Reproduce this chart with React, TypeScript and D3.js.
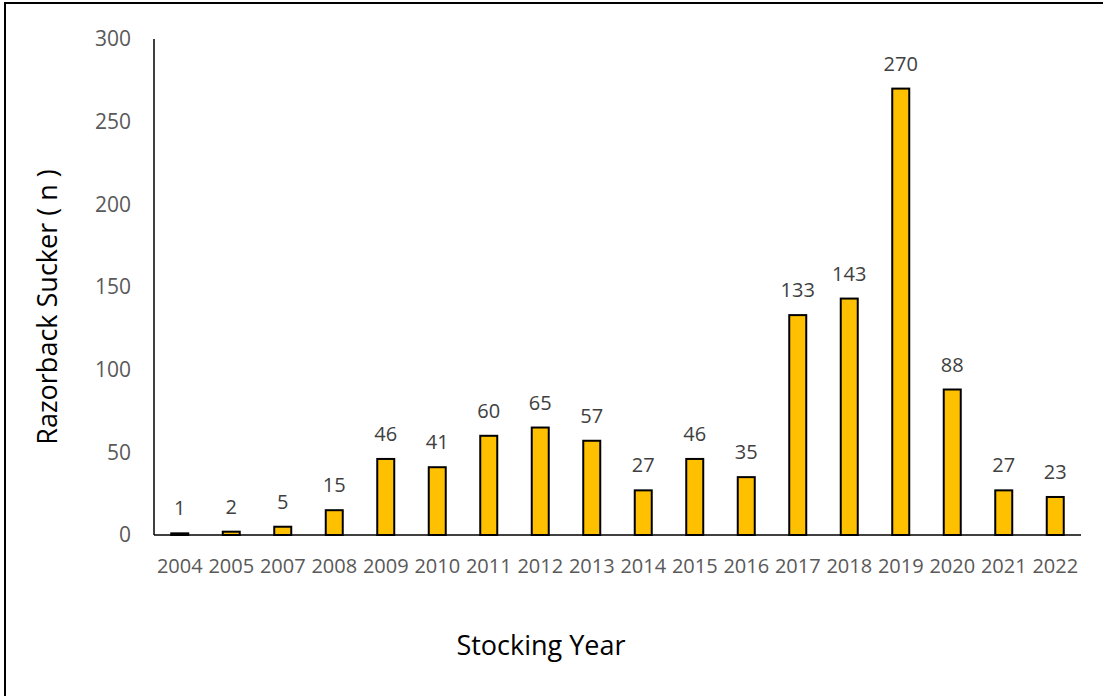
import React from "react";
import * as d3 from "d3";

const categories = ["2004","2005","2007","2008","2009","2010","2011","2012","2013","2014","2015","2016","2017","2018","2019","2020","2021","2022"];
const values = [1,2,5,15,46,41,60,65,57,27,46,35,133,143,270,88,27,23];
const yTicks = [0,50,100,150,200,250,300];

const W = 1103, H = 696;
const left = 154, right = 1081, top = 39, bottom = 535;
const FONT = "'Open Sans', 'Noto Sans', sans-serif";

export default function App() {
  const x = d3.scaleBand<string>().domain(categories).range([left, right]).paddingInner(0.67).paddingOuter(0.335);
  const y = d3.scaleLinear().domain([0, 300]).range([bottom, top]);
  return (
    <svg width={W} height={H} style={{ position: "absolute", left: 0, top: 0, background: "#fff" }}>
      <rect x={5} y={3} width={W + 20} height={H + 20} fill="#fff" stroke="#000" strokeWidth={2} />
      {values.map((v, i) => (
        <rect key={i} x={x(categories[i])} y={y(v)} width={x.bandwidth()} height={bottom - y(v)} fill="#FFC000" stroke="#000" strokeWidth={2} />
      ))}
      <line x1={left} x2={left} y1={top} y2={bottom} stroke="#000" strokeWidth={1.5} />
      <line x1={left} x2={right} y1={bottom} y2={bottom} stroke="#000" strokeWidth={1.5} />
      {yTicks.map(t => (
        <text key={t} x={131} y={y(t)} dy="0.35em" textAnchor="end" fontFamily={FONT} fontSize={21} fill="#595959">{t}</text>
      ))}
      {categories.map(c => (
        <text key={c} x={(x(c) as number) + x.bandwidth() / 2} y={573} textAnchor="middle" fontFamily={FONT} fontSize={20} fill="#595959">{c}</text>
      ))}
      {values.map((v, i) => (
        <text key={i} x={(x(categories[i]) as number) + x.bandwidth() / 2} y={y(v) - 18} textAnchor="middle" fontFamily={FONT} fontSize={20} fill="#404040">{v}</text>
      ))}
      <text transform={`translate(57,${(top + bottom) / 2 + 20}) rotate(-90)`} textAnchor="middle" fontFamily={FONT} fontSize={27} fill="#000">Razorback Sucker ( n )</text>
      <text x={541} y={655} textAnchor="middle" fontFamily={FONT} fontSize={27} fill="#000">Stocking Year</text>
    </svg>
  );
}
